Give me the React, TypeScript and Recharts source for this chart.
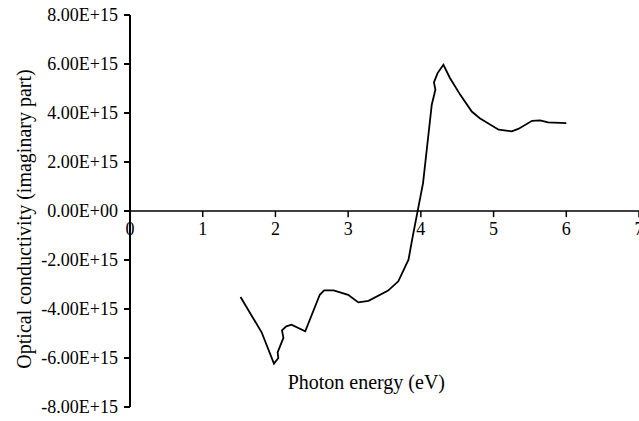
import { LineChart, Line, XAxis, YAxis, ReferenceLine, Label } from 'recharts'

const energy = [
  1.52, 1.81, 1.98, 2.04, 2.03, 2.11, 2.09, 2.15, 2.22, 2.41, 2.61, 2.67, 2.8, 3.0, 3.14, 3.28, 3.55,
  3.69, 3.83, 3.88, 4.03, 4.15, 4.2, 4.18, 4.23, 4.31, 4.4, 4.54, 4.7, 4.81, 5.07, 5.25, 5.34, 5.53,
  5.64, 5.75, 6.0
]
const sigma = [
  -3.51e15, -4.95e15, -6.23e15, -6.0e15, -5.77e15, -5.18e15, -4.87e15, -4.71e15, -4.64e15, -4.91e15,
  -3.42e15, -3.24e15, -3.24e15, -3.42e15, -3.73e15, -3.67e15, -3.25e15, -2.87e15, -1.99e15, -1.17e15,
  1.14e15, 4.34e15, 4.95e15, 5.25e15, 5.63e15, 5.97e15, 5.43e15, 4.75e15, 4.06e15, 3.79e15, 3.32e15,
  3.25e15, 3.35e15, 3.68e15, 3.7e15, 3.62e15, 3.59e15
]
const xTicks = [0, 1, 2, 3, 4, 5, 6, 7]
const yTicks = [-8e15, -6e15, -4e15, -2e15, 0, 2e15, 4e15, 6e15, 8e15]

const data = energy.map((e, i) => ({ e, s: sigma[i] }))

const font = "'Liberation Serif', 'Times New Roman', serif"

const sci = (v: number) => {
  if (v === 0) return '0.00E+00'
  const [m, ex] = v.toExponential(2).split('e')
  const n = parseInt(ex)
  return `${m}E${n < 0 ? '-' : '+'}${String(Math.abs(n)).padStart(2, '0')}`
}

const YTitle = ({ viewBox }: any) => {
  const x = viewBox.x + 24
  const y = viewBox.y + viewBox.height / 2 + 8
  return (
    <text
      x={x}
      y={y}
      transform={`rotate(-90, ${x}, ${y})`}
      textAnchor="middle"
      dominantBaseline="central"
      fill="#000"
      fontFamily={font}
      fontSize={20}
    >
      Optical conductivity (imaginary part)
    </text>
  )
}

const App = () => {
  return (
    <div style={{ position: 'absolute', left: 0, top: 0, background: '#fff' }}>
      <LineChart width={639} height={421} data={data} margin={{ top: 15, right: 0, bottom: 14, left: 0 }}>
        <XAxis dataKey="e" type="number" domain={[0, 7]} ticks={xTicks} hide />
        <YAxis
          type="number"
          domain={[-8e15, 8e15]}
          ticks={yTicks}
          tickFormatter={sci}
          width={130}
          axisLine={{ stroke: '#000', strokeWidth: 2 }}
          tickLine={{ stroke: '#000', strokeWidth: 2 }}
          tickSize={6}
          tick={{ fill: '#000', fontFamily: font, fontSize: 18, dx: -4 }}
        >
          <Label content={<YTitle />} />
        </YAxis>
        <ReferenceLine y={0} stroke="#000" strokeWidth={1.5} />
        {xTicks.map((t) => (
          <ReferenceLine
            key={t}
            segment={[{ x: t, y: 0 }, { x: t, y: -2.5e14 }]}
            stroke="#000"
            strokeWidth={1.5}
            label={{ value: String(t), position: 'bottom', offset: 5, fill: '#000', fontFamily: font, fontSize: 18 }}
          />
        ))}
        <ReferenceLine
          segment={[{ x: 3.25, y: -6.96e15 }, { x: 3.25, y: -6.96e15 }]}
          stroke="none"
          label={{ value: 'Photon energy (eV)', position: 'center', fill: '#000', fontFamily: font, fontSize: 20 }}
        />
        <Line
          type="linear"
          dataKey="s"
          stroke="#000"
          strokeWidth={1.8}
          dot={false}
          isAnimationActive={false}
        />
      </LineChart>
    </div>
  )
}

export default App
